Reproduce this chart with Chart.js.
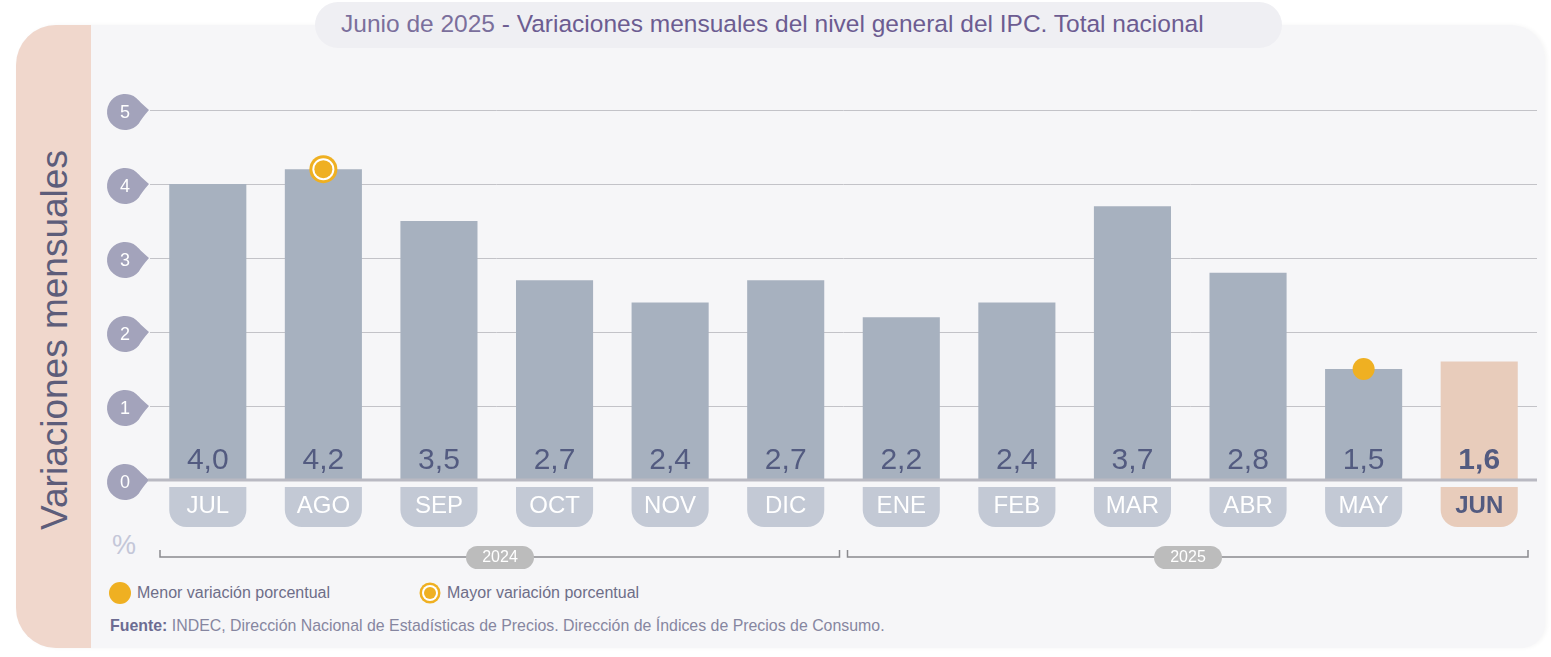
<!DOCTYPE html>
<html>
<head>
<meta charset="utf-8">
<script src="https://cdn.jsdelivr.net/npm/chart.js@4.4.1/dist/chart.umd.min.js"></script>
<style>
  html, body { margin:0; padding:0; background:#ffffff; width:1551px; height:657px; overflow:hidden; font-family:"Liberation Sans", Arial, sans-serif; }
  #card { position:absolute; left:16px; top:25px; width:1529px; height:623px; background:#f6f6f8; border-radius:40px 34px 24px 40px; box-shadow:2px 0 4px rgba(0,0,0,0.04); overflow:hidden; }
  #side { position:absolute; left:0; top:0; width:75px; height:100%; background:#f0d7cc; }
  #ytitle { position:absolute; left:55px; top:340px; transform:translate(-50%,-50%) rotate(-90deg); white-space:nowrap; font-size:37px; color:#5d5d7a; }
  #pill { position:absolute; left:315px; top:2px; width:967px; height:46px; border-radius:23px; background:#efeff3; }
  #title { position:absolute; left:341px; top:10px; font-size:24.5px; color:#6c5c91; white-space:nowrap; }
  #title span { color:#7b6f9c; }
  #pct { position:absolute; left:112px; top:530px; font-size:27px; color:#c4c7d8; }
  .leg { position:absolute; top:584px; font-size:16px; color:#6e6e88; white-space:nowrap; }
  #src { position:absolute; left:110px; top:617px; font-size:15.9px; color:#8686a0; white-space:nowrap; }
  #src b { color:#6c6c92; }
  canvas { position:absolute; left:0; top:0; }
</style>
</head>
<body>
<div id="card"><div id="side"></div></div>
<div id="ytitle">Variaciones mensuales</div>
<div id="pill"></div>
<div id="title"><span>Junio de 2025</span> - Variaciones mensuales del nivel general del IPC. Total nacional</div>
<div id="pct">%</div>
<div class="leg" style="left:137px">Menor variación porcentual</div>
<div class="leg" style="left:447px">Mayor variación porcentual</div>
<div id="src"><b>Fuente:</b> INDEC, Dirección Nacional de Estadísticas de Precios. Dirección de Índices de Precios de Consumo.</div>
<canvas id="chart" width="1551" height="657"></canvas>
<script>
// datos
const months = ['JUL','AGO','SEP','OCT','NOV','DIC','ENE','FEB','MAR','ABR','MAY','JUN']
const values = [4.0, 4.2, 3.5, 2.7, 2.4, 2.7, 2.2, 2.4, 3.7, 2.8, 1.5, 1.6]
const years = ['2024','2025']
const yearStart = [0, 6]   // primer mes de cada año
const yearEnd = [5, 11]
const yTicks = [0, 1, 2, 3, 4, 5]
const maxMonth = 'AGO'
const minMonth = 'MAY'

const ORANGE = '#efb022'
const last = months.length - 1
const barColors = months.map((m, i) => i == last ? '#e8ccbb' : '#a7b1bf')
const tabColors = months.map((m, i) => i == last ? '#e8ccbb' : '#c3c9d5')

function legendMarks(){
  // marcadores de la leyenda
  const c = document.getElementById('chart').getContext('2d')
  c.save()
  c.fillStyle = ORANGE
  c.beginPath(); c.arc(120, 593, 11, 0, Math.PI*2); c.fill()
  c.beginPath(); c.arc(430, 593, 10.5, 0, Math.PI*2); c.fillStyle = ORANGE; c.fill()
  c.beginPath(); c.arc(430, 593, 8, 0, Math.PI*2); c.fillStyle = '#ffffff'; c.fill()
  c.beginPath(); c.arc(430, 593, 6, 0, Math.PI*2); c.fillStyle = ORANGE; c.fill()
  c.restore()
}

const decoPlugin = {
  id: 'deco',
  beforeDatasetsDraw(chart){
    const c = chart.ctx, y = chart.scales.y
    c.save()
    // ticks en forma de gota
    yTicks.forEach(t => {
      const py = y.getPixelForValue(t)
      c.fillStyle = '#a3a3bb'
      c.beginPath()
      c.arc(125, py + 2, 18, Math.PI*0.22, Math.PI*1.78)
      c.quadraticCurveTo(142, py - 6, 149, py)
      c.quadraticCurveTo(142, py + 8, 125 + 18*Math.cos(Math.PI*0.22), py + 2 + 18*Math.sin(Math.PI*0.22))
      c.closePath()
      c.fill()
      c.fillStyle = '#ffffff'
      c.font = '18px "Liberation Sans", Arial'
      c.textAlign = 'center'; c.textBaseline = 'middle'
      c.fillText(String(t), 125, py + 3)
    })
    c.restore()
  },
  afterDatasetsDraw(chart){
    const c = chart.ctx, y = chart.scales.y, a = chart.chartArea
    const meta = chart.getDatasetMeta(0)
    const y0 = y.getPixelForValue(0)
    c.save()
    // linea de cero
    c.strokeStyle = '#b9b9c2'; c.lineWidth = 3
    c.beginPath(); c.moveTo(148, y0); c.lineTo(a.right, y0); c.stroke()

    meta.data.forEach((bar, i) => {
      const w = bar.width, l = bar.x - w/2
      // pestaña del mes
      c.fillStyle = tabColors[i]
      c.beginPath()
      c.roundRect(l, y0 + 7, w, 40, [0, 0, 17, 17])
      c.fill()
      c.textAlign = 'center'; c.textBaseline = 'middle'
      if(i == last){
        c.fillStyle = '#535b80'
        c.font = 'bold 24px "Liberation Sans", Arial'
      }else{
        c.fillStyle = '#ffffff'
        c.font = '24px "Liberation Sans", Arial'
      }
      c.fillText(months[i], bar.x, y0 + 26)
      // valor
      c.fillStyle = '#535b80'
      c.font = (i == last ? 'bold ' : '') + '30px "Liberation Sans", Arial'
      c.fillText(values[i].toFixed(1).replace('.', ','), bar.x, y0 - 19)

      // marcadores max / min
      if(months[i] == maxMonth){
        c.fillStyle = ORANGE
        c.beginPath(); c.arc(bar.x, bar.y, 14, 0, Math.PI*2); c.fill()
        c.fillStyle = '#ffffff'
        c.beginPath(); c.arc(bar.x, bar.y, 11, 0, Math.PI*2); c.fill()
        c.fillStyle = ORANGE
        c.beginPath(); c.arc(bar.x, bar.y, 9, 0, Math.PI*2); c.fill()
      }
      if(months[i] == minMonth){
        c.fillStyle = ORANGE
        c.beginPath(); c.arc(bar.x, bar.y, 11, 0, Math.PI*2); c.fill()
      }
    })

    // corchetes de años
    const by = 557
    const half = (meta.data[1].x - meta.data[0].x) / 2
    years.forEach((yr, k) => {
      const s = meta.data[yearStart[k]], e = meta.data[yearEnd[k]]
      const x1 = s.x - half + (k == 0 ? 10 : 4)
      const x2 = e.x + half - (k == years.length - 1 ? 9 : 4)
      c.strokeStyle = '#8a8a8e'; c.lineWidth = 1.5
      c.beginPath()
      c.moveTo(x1, by - 7); c.lineTo(x1, by); c.lineTo(x2, by); c.lineTo(x2, by - 7)
      c.stroke()
      const px = k == 0 ? 500 : 1188
      c.fillStyle = '#bcbcbc'
      c.beginPath(); c.roundRect(px - 34, by - 11, 68, 23, 11.5); c.fill()
      c.fillStyle = '#ffffff'
      c.font = '16px "Liberation Sans", Arial'
      c.textAlign = 'center'; c.textBaseline = 'middle'
      c.fillText(yr, px, by + 1)
    })
    c.restore()
  }
}

const myChart = new Chart('chart', {
  type: 'bar',
  data: {
    labels: months,
    datasets: [{
      data: values,
      backgroundColor: barColors,
      borderWidth: 0,
      barPercentage: 0.667,
      categoryPercentage: 1.0
    }]
  },
  options: {
    responsive: false,
    animation: false,
    events: [],
    layout: { padding: { left: 150, right: 14, top: 110, bottom: 177 } },
    plugins: { legend: { display: false }, tooltip: { enabled: false } },
    scales: {
      x: { display: false },
      y: {
        min: 0, max: 5,
        ticks: { display: false, stepSize: 1 },
        border: { display: false },
        grid: { color: '#c3c3c8', lineWidth: 1, drawTicks: false }
      }
    }
  },
  plugins: [decoPlugin]
})
legendMarks()
</script>
</body>
</html>
